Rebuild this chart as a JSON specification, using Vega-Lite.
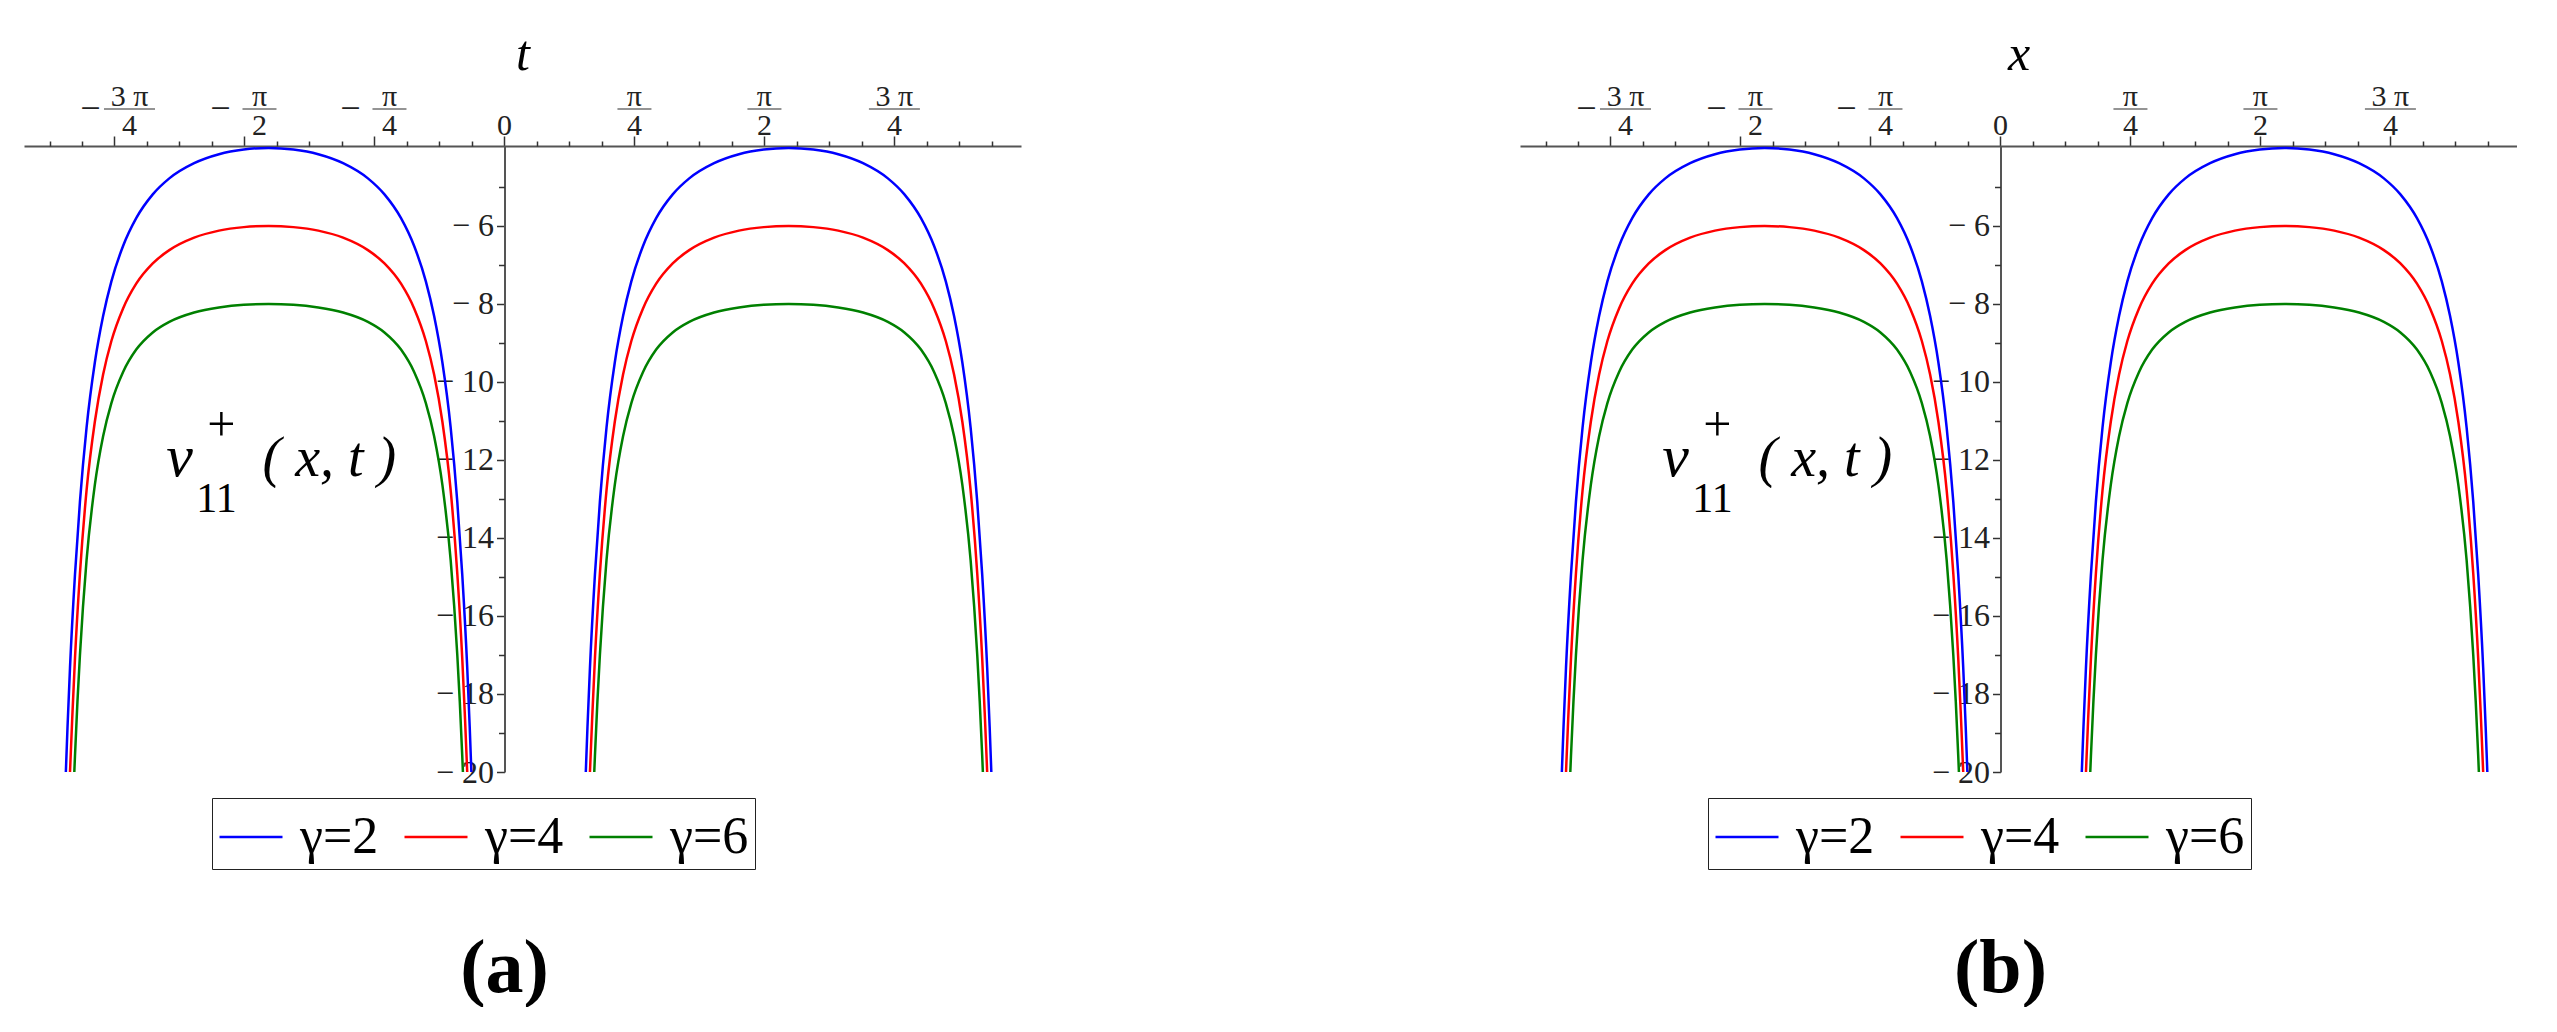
{
"$schema": "https://vega.github.io/schema/vega-lite/v6.json",
"background": "white",
"padding": {"left": 24, "top": 29, "right": 0, "bottom": 0},
"config": {"view": {"stroke": null}, "axis": {"grid": false}},
"spacing": 499,
"resolve": {"legend": {"color": "independent"}},
"datasets": {
"one": [{}],
"xlab": [{"t":-2.35619,"num":"3 π","den":"4"},{"t":-1.5708,"num":"π","den":"2"},{"t":-0.7854,"num":"π","den":"4"},{"t":0.7854,"num":"π","den":"4"},{"t":1.5708,"num":"π","den":"2"},{"t":2.35619,"num":"3 π","den":"4"}],
"curves": [
{"t":-2.6584,"v":-21,"g":"γ=2","h":"L"},{"t":-2.6501,"v":-20,"g":"γ=2","h":"L"},{"t":-2.64,"v":-18.84,"g":"γ=2","h":"L"},{"t":-2.625,"v":-17.32,"g":"γ=2","h":"L"},{"t":-2.595,"v":-14.94,"g":"γ=2","h":"L"},{"t":-2.565,"v":-13.07,"g":"γ=2","h":"L"},{"t":-2.525,"v":-11.17,"g":"γ=2","h":"L"},{"t":-2.475,"v":-9.5,"g":"γ=2","h":"L"},{"t":-2.425,"v":-8.31,"g":"γ=2","h":"L"},{"t":-2.375,"v":-7.42,"g":"γ=2","h":"L"},{"t":-2.305,"v":-6.52,"g":"γ=2","h":"L"},{"t":-2.225,"v":-5.8,"g":"γ=2","h":"L"},{"t":-2.125,"v":-5.19,"g":"γ=2","h":"L"},{"t":-2.025,"v":-4.78,"g":"γ=2","h":"L"},{"t":-1.875,"v":-4.39,"g":"γ=2","h":"L"},{"t":-1.725,"v":-4.16,"g":"γ=2","h":"L"},{"t":-1.575,"v":-4.04,"g":"γ=2","h":"L"},{"t":-1.425,"v":-4,"g":"γ=2","h":"L"},{"t":-1.275,"v":-4.04,"g":"γ=2","h":"L"},{"t":-1.125,"v":-4.16,"g":"γ=2","h":"L"},{"t":-0.975,"v":-4.39,"g":"γ=2","h":"L"},{"t":-0.825,"v":-4.78,"g":"γ=2","h":"L"},{"t":-0.725,"v":-5.19,"g":"γ=2","h":"L"},{"t":-0.625,"v":-5.8,"g":"γ=2","h":"L"},{"t":-0.545,"v":-6.52,"g":"γ=2","h":"L"},{"t":-0.475,"v":-7.42,"g":"γ=2","h":"L"},{"t":-0.425,"v":-8.31,"g":"γ=2","h":"L"},{"t":-0.375,"v":-9.5,"g":"γ=2","h":"L"},{"t":-0.325,"v":-11.17,"g":"γ=2","h":"L"},{"t":-0.285,"v":-13.07,"g":"γ=2","h":"L"},{"t":-0.255,"v":-14.94,"g":"γ=2","h":"L"},{"t":-0.225,"v":-17.32,"g":"γ=2","h":"L"},{"t":-0.21,"v":-18.84,"g":"γ=2","h":"L"},{"t":-0.1999,"v":-20,"g":"γ=2","h":"L"},{"t":-0.1916,"v":-21,"g":"γ=2","h":"L"},
{"t":0.4832,"v":-21,"g":"γ=2","h":"R"},{"t":0.4915,"v":-20,"g":"γ=2","h":"R"},{"t":0.5016,"v":-18.84,"g":"γ=2","h":"R"},{"t":0.5166,"v":-17.32,"g":"γ=2","h":"R"},{"t":0.5466,"v":-14.94,"g":"γ=2","h":"R"},{"t":0.5766,"v":-13.07,"g":"γ=2","h":"R"},{"t":0.6166,"v":-11.17,"g":"γ=2","h":"R"},{"t":0.6666,"v":-9.5,"g":"γ=2","h":"R"},{"t":0.7166,"v":-8.31,"g":"γ=2","h":"R"},{"t":0.7666,"v":-7.42,"g":"γ=2","h":"R"},{"t":0.8366,"v":-6.52,"g":"γ=2","h":"R"},{"t":0.9166,"v":-5.8,"g":"γ=2","h":"R"},{"t":1.0166,"v":-5.19,"g":"γ=2","h":"R"},{"t":1.1166,"v":-4.78,"g":"γ=2","h":"R"},{"t":1.2666,"v":-4.39,"g":"γ=2","h":"R"},{"t":1.4166,"v":-4.16,"g":"γ=2","h":"R"},{"t":1.5666,"v":-4.04,"g":"γ=2","h":"R"},{"t":1.7166,"v":-4,"g":"γ=2","h":"R"},{"t":1.8666,"v":-4.04,"g":"γ=2","h":"R"},{"t":2.0166,"v":-4.16,"g":"γ=2","h":"R"},{"t":2.1666,"v":-4.39,"g":"γ=2","h":"R"},{"t":2.3166,"v":-4.78,"g":"γ=2","h":"R"},{"t":2.4166,"v":-5.19,"g":"γ=2","h":"R"},{"t":2.5166,"v":-5.8,"g":"γ=2","h":"R"},{"t":2.5966,"v":-6.52,"g":"γ=2","h":"R"},{"t":2.6666,"v":-7.42,"g":"γ=2","h":"R"},{"t":2.7166,"v":-8.31,"g":"γ=2","h":"R"},{"t":2.7666,"v":-9.5,"g":"γ=2","h":"R"},{"t":2.8166,"v":-11.17,"g":"γ=2","h":"R"},{"t":2.8566,"v":-13.07,"g":"γ=2","h":"R"},{"t":2.8866,"v":-14.94,"g":"γ=2","h":"R"},{"t":2.9166,"v":-17.32,"g":"γ=2","h":"R"},{"t":2.9316,"v":-18.84,"g":"γ=2","h":"R"},{"t":2.9417,"v":-20,"g":"γ=2","h":"R"},{"t":2.95,"v":-21,"g":"γ=2","h":"R"},
{"t":-2.6332,"v":-21,"g":"γ=4","h":"L"},{"t":-2.625,"v":-20,"g":"γ=4","h":"L"},{"t":-2.61,"v":-18.47,"g":"γ=4","h":"L"},{"t":-2.595,"v":-17.09,"g":"γ=4","h":"L"},{"t":-2.565,"v":-14.91,"g":"γ=4","h":"L"},{"t":-2.525,"v":-12.78,"g":"γ=4","h":"L"},{"t":-2.475,"v":-11.02,"g":"γ=4","h":"L"},{"t":-2.425,"v":-9.81,"g":"γ=4","h":"L"},{"t":-2.375,"v":-8.95,"g":"γ=4","h":"L"},{"t":-2.305,"v":-8.12,"g":"γ=4","h":"L"},{"t":-2.225,"v":-7.48,"g":"γ=4","h":"L"},{"t":-2.125,"v":-6.96,"g":"γ=4","h":"L"},{"t":-2.025,"v":-6.62,"g":"γ=4","h":"L"},{"t":-1.875,"v":-6.3,"g":"γ=4","h":"L"},{"t":-1.725,"v":-6.12,"g":"γ=4","h":"L"},{"t":-1.575,"v":-6.03,"g":"γ=4","h":"L"},{"t":-1.425,"v":-6,"g":"γ=4","h":"L"},{"t":-1.275,"v":-6.03,"g":"γ=4","h":"L"},{"t":-1.125,"v":-6.12,"g":"γ=4","h":"L"},{"t":-0.975,"v":-6.3,"g":"γ=4","h":"L"},{"t":-0.825,"v":-6.62,"g":"γ=4","h":"L"},{"t":-0.725,"v":-6.96,"g":"γ=4","h":"L"},{"t":-0.625,"v":-7.48,"g":"γ=4","h":"L"},{"t":-0.545,"v":-8.12,"g":"γ=4","h":"L"},{"t":-0.475,"v":-8.95,"g":"γ=4","h":"L"},{"t":-0.425,"v":-9.81,"g":"γ=4","h":"L"},{"t":-0.375,"v":-11.02,"g":"γ=4","h":"L"},{"t":-0.325,"v":-12.78,"g":"γ=4","h":"L"},{"t":-0.285,"v":-14.91,"g":"γ=4","h":"L"},{"t":-0.255,"v":-17.09,"g":"γ=4","h":"L"},{"t":-0.24,"v":-18.47,"g":"γ=4","h":"L"},{"t":-0.225,"v":-20,"g":"γ=4","h":"L"},{"t":-0.2168,"v":-21,"g":"γ=4","h":"L"},
{"t":0.5084,"v":-21,"g":"γ=4","h":"R"},{"t":0.5166,"v":-20,"g":"γ=4","h":"R"},{"t":0.5316,"v":-18.47,"g":"γ=4","h":"R"},{"t":0.5466,"v":-17.09,"g":"γ=4","h":"R"},{"t":0.5766,"v":-14.91,"g":"γ=4","h":"R"},{"t":0.6166,"v":-12.78,"g":"γ=4","h":"R"},{"t":0.6666,"v":-11.02,"g":"γ=4","h":"R"},{"t":0.7166,"v":-9.81,"g":"γ=4","h":"R"},{"t":0.7666,"v":-8.95,"g":"γ=4","h":"R"},{"t":0.8366,"v":-8.12,"g":"γ=4","h":"R"},{"t":0.9166,"v":-7.48,"g":"γ=4","h":"R"},{"t":1.0166,"v":-6.96,"g":"γ=4","h":"R"},{"t":1.1166,"v":-6.62,"g":"γ=4","h":"R"},{"t":1.2666,"v":-6.3,"g":"γ=4","h":"R"},{"t":1.4166,"v":-6.12,"g":"γ=4","h":"R"},{"t":1.5666,"v":-6.03,"g":"γ=4","h":"R"},{"t":1.7166,"v":-6,"g":"γ=4","h":"R"},{"t":1.8666,"v":-6.03,"g":"γ=4","h":"R"},{"t":2.0166,"v":-6.12,"g":"γ=4","h":"R"},{"t":2.1666,"v":-6.3,"g":"γ=4","h":"R"},{"t":2.3166,"v":-6.62,"g":"γ=4","h":"R"},{"t":2.4166,"v":-6.96,"g":"γ=4","h":"R"},{"t":2.5166,"v":-7.48,"g":"γ=4","h":"R"},{"t":2.5966,"v":-8.12,"g":"γ=4","h":"R"},{"t":2.6666,"v":-8.95,"g":"γ=4","h":"R"},{"t":2.7166,"v":-9.81,"g":"γ=4","h":"R"},{"t":2.7666,"v":-11.02,"g":"γ=4","h":"R"},{"t":2.8166,"v":-12.78,"g":"γ=4","h":"R"},{"t":2.8566,"v":-14.91,"g":"γ=4","h":"R"},{"t":2.8866,"v":-17.09,"g":"γ=4","h":"R"},{"t":2.9016,"v":-18.47,"g":"γ=4","h":"R"},{"t":2.9166,"v":-20,"g":"γ=4","h":"R"},{"t":2.9248,"v":-21,"g":"γ=4","h":"R"},
{"t":-2.608,"v":-21,"g":"γ=6","h":"L"},{"t":-2.599,"v":-20,"g":"γ=6","h":"L"},{"t":-2.595,"v":-19.59,"g":"γ=6","h":"L"},{"t":-2.58,"v":-18.19,"g":"γ=6","h":"L"},{"t":-2.565,"v":-17.0,"g":"γ=6","h":"L"},{"t":-2.525,"v":-14.57,"g":"γ=6","h":"L"},{"t":-2.475,"v":-12.64,"g":"γ=6","h":"L"},{"t":-2.425,"v":-11.39,"g":"γ=6","h":"L"},{"t":-2.375,"v":-10.54,"g":"γ=6","h":"L"},{"t":-2.305,"v":-9.75,"g":"γ=6","h":"L"},{"t":-2.225,"v":-9.17,"g":"γ=6","h":"L"},{"t":-2.125,"v":-8.73,"g":"γ=6","h":"L"},{"t":-2.025,"v":-8.46,"g":"γ=6","h":"L"},{"t":-1.875,"v":-8.22,"g":"γ=6","h":"L"},{"t":-1.725,"v":-8.09,"g":"γ=6","h":"L"},{"t":-1.575,"v":-8.02,"g":"γ=6","h":"L"},{"t":-1.425,"v":-8,"g":"γ=6","h":"L"},{"t":-1.275,"v":-8.02,"g":"γ=6","h":"L"},{"t":-1.125,"v":-8.09,"g":"γ=6","h":"L"},{"t":-0.975,"v":-8.22,"g":"γ=6","h":"L"},{"t":-0.825,"v":-8.46,"g":"γ=6","h":"L"},{"t":-0.725,"v":-8.73,"g":"γ=6","h":"L"},{"t":-0.625,"v":-9.17,"g":"γ=6","h":"L"},{"t":-0.545,"v":-9.75,"g":"γ=6","h":"L"},{"t":-0.475,"v":-10.54,"g":"γ=6","h":"L"},{"t":-0.425,"v":-11.39,"g":"γ=6","h":"L"},{"t":-0.375,"v":-12.64,"g":"γ=6","h":"L"},{"t":-0.325,"v":-14.57,"g":"γ=6","h":"L"},{"t":-0.285,"v":-17.0,"g":"γ=6","h":"L"},{"t":-0.27,"v":-18.19,"g":"γ=6","h":"L"},{"t":-0.255,"v":-19.59,"g":"γ=6","h":"L"},{"t":-0.251,"v":-20,"g":"γ=6","h":"L"},{"t":-0.242,"v":-21,"g":"γ=6","h":"L"},
{"t":0.5336,"v":-21,"g":"γ=6","h":"R"},{"t":0.5426,"v":-20,"g":"γ=6","h":"R"},{"t":0.5466,"v":-19.59,"g":"γ=6","h":"R"},{"t":0.5616,"v":-18.19,"g":"γ=6","h":"R"},{"t":0.5766,"v":-17.0,"g":"γ=6","h":"R"},{"t":0.6166,"v":-14.57,"g":"γ=6","h":"R"},{"t":0.6666,"v":-12.64,"g":"γ=6","h":"R"},{"t":0.7166,"v":-11.39,"g":"γ=6","h":"R"},{"t":0.7666,"v":-10.54,"g":"γ=6","h":"R"},{"t":0.8366,"v":-9.75,"g":"γ=6","h":"R"},{"t":0.9166,"v":-9.17,"g":"γ=6","h":"R"},{"t":1.0166,"v":-8.73,"g":"γ=6","h":"R"},{"t":1.1166,"v":-8.46,"g":"γ=6","h":"R"},{"t":1.2666,"v":-8.22,"g":"γ=6","h":"R"},{"t":1.4166,"v":-8.09,"g":"γ=6","h":"R"},{"t":1.5666,"v":-8.02,"g":"γ=6","h":"R"},{"t":1.7166,"v":-8,"g":"γ=6","h":"R"},{"t":1.8666,"v":-8.02,"g":"γ=6","h":"R"},{"t":2.0166,"v":-8.09,"g":"γ=6","h":"R"},{"t":2.1666,"v":-8.22,"g":"γ=6","h":"R"},{"t":2.3166,"v":-8.46,"g":"γ=6","h":"R"},{"t":2.4166,"v":-8.73,"g":"γ=6","h":"R"},{"t":2.5166,"v":-9.17,"g":"γ=6","h":"R"},{"t":2.5966,"v":-9.75,"g":"γ=6","h":"R"},{"t":2.6666,"v":-10.54,"g":"γ=6","h":"R"},{"t":2.7166,"v":-11.39,"g":"γ=6","h":"R"},{"t":2.7666,"v":-12.64,"g":"γ=6","h":"R"},{"t":2.8166,"v":-14.57,"g":"γ=6","h":"R"},{"t":2.8566,"v":-17.0,"g":"γ=6","h":"R"},{"t":2.8716,"v":-18.19,"g":"γ=6","h":"R"},{"t":2.8866,"v":-19.59,"g":"γ=6","h":"R"},{"t":2.8906,"v":-20,"g":"γ=6","h":"R"},{"t":2.8996,"v":-21,"g":"γ=6","h":"R"}
]
},
"hconcat": [
{
"width": 997, "height": 626,
"title": {"text": "(a)", "orient": "bottom", "font": "Liberation Serif", "fontSize": 76, "fontWeight": "bold", "color": "black", "offset": 62, "dx": -18},
"resolve": {"axis": {"x": "independent", "y": "independent"}},
"layer": [
{"data": {"name": "curves"},
 "mark": {"type": "line", "interpolate": "monotone", "strokeWidth": 2.5, "clip": true},
 "encoding": {
  "x": {"field": "t", "type": "quantitative", "scale": {"domain": [-2.903, 3.121], "nice": false, "zero": false},
        "axis": {"orient": "top", "values": [-2.35619, -1.5708, -0.7854, 0, 0.7854, 1.5708, 2.35619], "labels": false, "tickSize": 10, "tickWidth": 1.5, "tickColor": "#333", "domainColor": "#555", "domainWidth": 2, "title": "t", "titleFont": "Liberation Serif", "titleFontStyle": "italic", "titleFontWeight": "normal", "titleFontSize": 50, "titleColor": "black", "titlePadding": 66, "titleBaseline": "alphabetic"}},
  "y": {"field": "v", "type": "quantitative", "scale": {"domain": [-20, -3.95], "nice": false, "zero": false},
        "axis": {"orient": "left", "offset": -480.5, "values": [-6, -8, -10, -12, -14, -16, -18, -20], "labelExpr": "'− ' + abs(datum.value)", "labelFont": "Liberation Serif", "labelFontSize": 32, "labelColor": "#222", "labelPadding": 3, "labelOverlap": false, "tickSize": 8, "tickWidth": 1.5, "tickColor": "#333", "domainColor": "#555", "domainWidth": 2, "title": null}},
  "color": {"field": "g", "type": "nominal", "scale": {"domain": ["γ=2", "γ=4", "γ=6"], "range": ["#0000ff", "#ff0000", "#008000"]},
        "legend": {"orient": "none", "legendX": 188, "legendY": 652, "direction": "horizontal", "title": null, "strokeColor": "#222", "padding": 6, "symbolType": "stroke", "symbolSize": 3969, "symbolStrokeWidth": 2.5, "labelFont": "Liberation Serif", "labelFontSize": 52, "labelColor": "black", "labelOffset": 16, "columnPadding": 20, "labelLimit": 0}},
  "detail": {"field": "h"}
 }},
{"data": {"name": "curves"},
 "mark": {"type": "point", "opacity": 0},
 "encoding": {
  "x": {"field": "t", "type": "quantitative", "axis": {"orient": "top", "values": [-2.7489, -2.5525, -2.1598, -1.9635, -1.7671, -1.3744, -1.1781, -0.9817, -0.589, -0.3927, -0.1963, 0.1963, 0.3927, 0.589, 0.9817, 1.1781, 1.3744, 1.7671, 1.9635, 2.1598, 2.5525, 2.7489, 2.9452], "labels": false, "domain": false, "tickSize": 5, "tickWidth": 1.5, "tickColor": "#333", "title": null}},
  "y": {"field": "v", "type": "quantitative", "axis": {"orient": "left", "offset": -480.5, "values": [-5, -7, -9, -11, -13, -15, -17, -19], "labels": false, "domain": false, "tickSize": 6, "tickWidth": 1.5, "tickColor": "#333", "title": null}}
 }},
{"data": {"name": "xlab"}, "transform": [{"filter": "datum.t > 0"}],
 "mark": {"type": "text", "font": "Liberation Serif", "fontSize": 30, "color": "#222", "baseline": "middle", "align": "center"},
 "encoding": {"x": {"field": "t", "type": "quantitative", "axis": null}, "y": {"datum": -2.7, "type": "quantitative", "axis": null}, "text": {"field": "num"}}},
{"data": {"name": "xlab"}, "transform": [{"filter": "datum.t < 0"}],
 "mark": {"type": "text", "font": "Liberation Serif", "fontSize": 30, "color": "#222", "baseline": "middle", "align": "center", "dx": 15},
 "encoding": {"x": {"field": "t", "type": "quantitative", "axis": null}, "y": {"datum": -2.7, "type": "quantitative", "axis": null}, "text": {"field": "num"}}},
{"data": {"name": "xlab"}, "transform": [{"filter": "datum.t > 0"}],
 "mark": {"type": "text", "font": "Liberation Serif", "fontSize": 30, "color": "#222", "baseline": "middle", "align": "center"},
 "encoding": {"x": {"field": "t", "type": "quantitative", "axis": null}, "y": {"datum": -3.44, "type": "quantitative", "axis": null}, "text": {"field": "den"}}},
{"data": {"name": "xlab"}, "transform": [{"filter": "datum.t < 0"}],
 "mark": {"type": "text", "font": "Liberation Serif", "fontSize": 30, "color": "#222", "baseline": "middle", "align": "center", "dx": 15},
 "encoding": {"x": {"field": "t", "type": "quantitative", "axis": null}, "y": {"datum": -3.44, "type": "quantitative", "axis": null}, "text": {"field": "den"}}},
{"data": {"name": "xlab"}, "transform": [{"filter": "datum.t > 0"}],
 "mark": {"type": "tick", "orient": "horizontal", "thickness": 2, "color": "#666"},
 "encoding": {"x": {"field": "t", "type": "quantitative", "axis": null}, "y": {"datum": -3.0, "type": "quantitative", "axis": null}, "size": {"condition": {"test": "datum.num == '3 π'", "value": 51}, "value": 34}}},
{"data": {"name": "xlab"}, "transform": [{"filter": "datum.t < 0"}],
 "mark": {"type": "tick", "orient": "horizontal", "thickness": 2, "color": "#666", "xOffset": 15},
 "encoding": {"x": {"field": "t", "type": "quantitative", "axis": null}, "y": {"datum": -3.0, "type": "quantitative", "axis": null}, "size": {"condition": {"test": "datum.num == '3 π'", "value": 51}, "value": 34}}},
{"data": {"name": "xlab"}, "transform": [{"filter": "datum.t < 0"}],
 "mark": {"type": "text", "font": "Liberation Serif", "fontSize": 36, "color": "#222", "baseline": "middle", "align": "center", "dx": -24},
 "encoding": {"x": {"field": "t", "type": "quantitative", "axis": null}, "y": {"datum": -3.0, "type": "quantitative", "axis": null}, "text": {"value": "−"}}},
{"data": {"name": "one"},
 "mark": {"type": "text", "font": "Liberation Serif", "fontSize": 30, "color": "#222", "baseline": "middle", "align": "center"},
 "encoding": {"x": {"datum": 0, "type": "quantitative", "axis": null}, "y": {"datum": -3.44, "type": "quantitative", "axis": null}, "text": {"value": "0"}}},
{"data": {"name": "one"},
 "mark": {"type": "text", "font": "Liberation Serif", "fontSize": 60, "fontStyle": "italic", "color": "black", "baseline": "alphabetic", "align": "center"},
 "encoding": {"x": {"datum": -1.963, "type": "quantitative", "axis": null}, "y": {"datum": -12.41, "type": "quantitative", "axis": null}, "text": {"value": "v"}}},
{"data": {"name": "one"},
 "mark": {"type": "text", "font": "Liberation Serif", "fontSize": 50, "color": "black", "baseline": "middle", "align": "center"},
 "encoding": {"x": {"datum": -1.71, "type": "quantitative", "axis": null}, "y": {"datum": -11.13, "type": "quantitative", "axis": null}, "text": {"value": "+"}}},
{"data": {"name": "one"},
 "mark": {"type": "text", "font": "Liberation Serif", "fontSize": 42, "color": "black", "baseline": "middle", "align": "center"},
 "encoding": {"x": {"datum": -1.74, "type": "quantitative", "axis": null}, "y": {"datum": -13.0, "type": "quantitative", "axis": null}, "text": {"value": "11"}}},
{"data": {"name": "one"},
 "mark": {"type": "text", "font": "Liberation Serif", "fontSize": 56, "fontStyle": "italic", "color": "black", "baseline": "alphabetic", "align": "left"},
 "encoding": {"x": {"datum": -1.462, "type": "quantitative", "axis": null}, "y": {"datum": -12.41, "type": "quantitative", "axis": null}, "text": {"value": "( x, t )"}}}
]
},
{
"width": 997, "height": 626,
"title": {"text": "(b)", "orient": "bottom", "font": "Liberation Serif", "fontSize": 76, "fontWeight": "bold", "color": "black", "offset": 62, "dx": -18},
"resolve": {"axis": {"x": "independent", "y": "independent"}},
"layer": [
{"data": {"name": "curves"},
 "mark": {"type": "line", "interpolate": "monotone", "strokeWidth": 2.5, "clip": true},
 "encoding": {
  "x": {"field": "t", "type": "quantitative", "scale": {"domain": [-2.903, 3.121], "nice": false, "zero": false},
        "axis": {"orient": "top", "values": [-2.35619, -1.5708, -0.7854, 0, 0.7854, 1.5708, 2.35619], "labels": false, "tickSize": 10, "tickWidth": 1.5, "tickColor": "#333", "domainColor": "#555", "domainWidth": 2, "title": "x", "titleFont": "Liberation Serif", "titleFontStyle": "italic", "titleFontWeight": "normal", "titleFontSize": 50, "titleColor": "black", "titlePadding": 66, "titleBaseline": "alphabetic"}},
  "y": {"field": "v", "type": "quantitative", "scale": {"domain": [-20, -3.95], "nice": false, "zero": false},
        "axis": {"orient": "left", "offset": -480.5, "values": [-6, -8, -10, -12, -14, -16, -18, -20], "labelExpr": "'− ' + abs(datum.value)", "labelFont": "Liberation Serif", "labelFontSize": 32, "labelColor": "#222", "labelPadding": 3, "labelOverlap": false, "tickSize": 8, "tickWidth": 1.5, "tickColor": "#333", "domainColor": "#555", "domainWidth": 2, "title": null}},
  "color": {"field": "g", "type": "nominal", "scale": {"domain": ["γ=2", "γ=4", "γ=6"], "range": ["#0000ff", "#ff0000", "#008000"]},
        "legend": {"orient": "none", "legendX": 188, "legendY": 652, "direction": "horizontal", "title": null, "strokeColor": "#222", "padding": 6, "symbolType": "stroke", "symbolSize": 3969, "symbolStrokeWidth": 2.5, "labelFont": "Liberation Serif", "labelFontSize": 52, "labelColor": "black", "labelOffset": 16, "columnPadding": 20, "labelLimit": 0}},
  "detail": {"field": "h"}
 }},
{"data": {"name": "curves"},
 "mark": {"type": "point", "opacity": 0},
 "encoding": {
  "x": {"field": "t", "type": "quantitative", "axis": {"orient": "top", "values": [-2.7489, -2.5525, -2.1598, -1.9635, -1.7671, -1.3744, -1.1781, -0.9817, -0.589, -0.3927, -0.1963, 0.1963, 0.3927, 0.589, 0.9817, 1.1781, 1.3744, 1.7671, 1.9635, 2.1598, 2.5525, 2.7489, 2.9452], "labels": false, "domain": false, "tickSize": 5, "tickWidth": 1.5, "tickColor": "#333", "title": null}},
  "y": {"field": "v", "type": "quantitative", "axis": {"orient": "left", "offset": -480.5, "values": [-5, -7, -9, -11, -13, -15, -17, -19], "labels": false, "domain": false, "tickSize": 6, "tickWidth": 1.5, "tickColor": "#333", "title": null}}
 }},
{"data": {"name": "xlab"}, "transform": [{"filter": "datum.t > 0"}],
 "mark": {"type": "text", "font": "Liberation Serif", "fontSize": 30, "color": "#222", "baseline": "middle", "align": "center"},
 "encoding": {"x": {"field": "t", "type": "quantitative", "axis": null}, "y": {"datum": -2.7, "type": "quantitative", "axis": null}, "text": {"field": "num"}}},
{"data": {"name": "xlab"}, "transform": [{"filter": "datum.t < 0"}],
 "mark": {"type": "text", "font": "Liberation Serif", "fontSize": 30, "color": "#222", "baseline": "middle", "align": "center", "dx": 15},
 "encoding": {"x": {"field": "t", "type": "quantitative", "axis": null}, "y": {"datum": -2.7, "type": "quantitative", "axis": null}, "text": {"field": "num"}}},
{"data": {"name": "xlab"}, "transform": [{"filter": "datum.t > 0"}],
 "mark": {"type": "text", "font": "Liberation Serif", "fontSize": 30, "color": "#222", "baseline": "middle", "align": "center"},
 "encoding": {"x": {"field": "t", "type": "quantitative", "axis": null}, "y": {"datum": -3.44, "type": "quantitative", "axis": null}, "text": {"field": "den"}}},
{"data": {"name": "xlab"}, "transform": [{"filter": "datum.t < 0"}],
 "mark": {"type": "text", "font": "Liberation Serif", "fontSize": 30, "color": "#222", "baseline": "middle", "align": "center", "dx": 15},
 "encoding": {"x": {"field": "t", "type": "quantitative", "axis": null}, "y": {"datum": -3.44, "type": "quantitative", "axis": null}, "text": {"field": "den"}}},
{"data": {"name": "xlab"}, "transform": [{"filter": "datum.t > 0"}],
 "mark": {"type": "tick", "orient": "horizontal", "thickness": 2, "color": "#666"},
 "encoding": {"x": {"field": "t", "type": "quantitative", "axis": null}, "y": {"datum": -3.0, "type": "quantitative", "axis": null}, "size": {"condition": {"test": "datum.num == '3 π'", "value": 51}, "value": 34}}},
{"data": {"name": "xlab"}, "transform": [{"filter": "datum.t < 0"}],
 "mark": {"type": "tick", "orient": "horizontal", "thickness": 2, "color": "#666", "xOffset": 15},
 "encoding": {"x": {"field": "t", "type": "quantitative", "axis": null}, "y": {"datum": -3.0, "type": "quantitative", "axis": null}, "size": {"condition": {"test": "datum.num == '3 π'", "value": 51}, "value": 34}}},
{"data": {"name": "xlab"}, "transform": [{"filter": "datum.t < 0"}],
 "mark": {"type": "text", "font": "Liberation Serif", "fontSize": 36, "color": "#222", "baseline": "middle", "align": "center", "dx": -24},
 "encoding": {"x": {"field": "t", "type": "quantitative", "axis": null}, "y": {"datum": -3.0, "type": "quantitative", "axis": null}, "text": {"value": "−"}}},
{"data": {"name": "one"},
 "mark": {"type": "text", "font": "Liberation Serif", "fontSize": 30, "color": "#222", "baseline": "middle", "align": "center"},
 "encoding": {"x": {"datum": 0, "type": "quantitative", "axis": null}, "y": {"datum": -3.44, "type": "quantitative", "axis": null}, "text": {"value": "0"}}},
{"data": {"name": "one"},
 "mark": {"type": "text", "font": "Liberation Serif", "fontSize": 60, "fontStyle": "italic", "color": "black", "baseline": "alphabetic", "align": "center"},
 "encoding": {"x": {"datum": -1.963, "type": "quantitative", "axis": null}, "y": {"datum": -12.41, "type": "quantitative", "axis": null}, "text": {"value": "v"}}},
{"data": {"name": "one"},
 "mark": {"type": "text", "font": "Liberation Serif", "fontSize": 50, "color": "black", "baseline": "middle", "align": "center"},
 "encoding": {"x": {"datum": -1.71, "type": "quantitative", "axis": null}, "y": {"datum": -11.13, "type": "quantitative", "axis": null}, "text": {"value": "+"}}},
{"data": {"name": "one"},
 "mark": {"type": "text", "font": "Liberation Serif", "fontSize": 42, "color": "black", "baseline": "middle", "align": "center"},
 "encoding": {"x": {"datum": -1.74, "type": "quantitative", "axis": null}, "y": {"datum": -13.0, "type": "quantitative", "axis": null}, "text": {"value": "11"}}},
{"data": {"name": "one"},
 "mark": {"type": "text", "font": "Liberation Serif", "fontSize": 56, "fontStyle": "italic", "color": "black", "baseline": "alphabetic", "align": "left"},
 "encoding": {"x": {"datum": -1.462, "type": "quantitative", "axis": null}, "y": {"datum": -12.41, "type": "quantitative", "axis": null}, "text": {"value": "( x, t )"}}}
]
}
]
}
